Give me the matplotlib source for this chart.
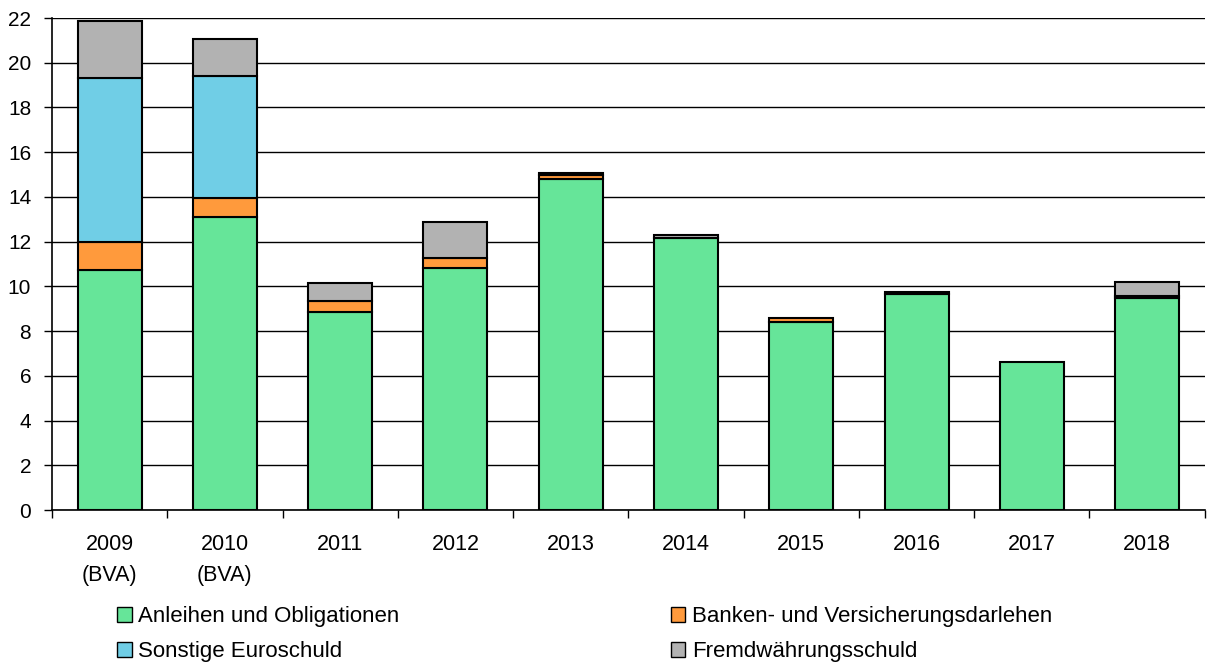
import numpy as np
import matplotlib.pyplot as plt
from matplotlib.patches import Patch

plt.rcParams['font.family'] = ['Liberation Sans', 'DejaVu Sans']

# values in bn EUR
years = ["2009\n(BVA)", "2010\n(BVA)", "2011", "2012", "2013", "2014", "2015", "2016", "2017", "2018"]
anleihen = [10.75, 13.1, 8.85, 10.8, 14.82, 12.15, 8.42, 9.65, 6.6, 9.5]
banken = [1.25, 0.85, 0.5, 0.47, 0.15, 0.0, 0.15, 0.0, 0.0, 0.05]
sonstige = [7.3, 5.45, 0.0, 0.0, 0.0, 0.0, 0.0, 0.0, 0.0, 0.0]
fremd = [2.55, 1.65, 0.8, 1.6, 0.08, 0.15, 0.0, 0.1, 0.0, 0.65]

labels = ["Anleihen und Obligationen", "Banken- und Versicherungsdarlehen",
          "Sonstige Euroschuld", "Fremdwährungsschuld"]
colors = ["#66e599", "#ff9a3c", "#70cee6", "#b2b2b2"]

fig = plt.figure(figsize=(12.07, 6.62), dpi=100)
ax = fig.add_axes([0.0431, 0.2296, 0.955, 0.7432])

x = np.arange(len(years))
w = 0.555
bottom = np.zeros(len(years))
series = [anleihen, banken, sonstige, fremd]
for vals, col in zip(series, colors):
    vals = np.array(vals)
    mask = vals > 0
    ax.bar(x[mask], vals[mask], w, bottom=bottom[mask], color=col,
           edgecolor="black", linewidth=1.5, zorder=3)
    bottom += vals

ax.set_ylim(0, 22)
ax.set_yticks(np.arange(0, 23, 2))
ax.set_xlim(-0.5, len(years) - 0.5)
ax.set_xticks(x)
ax.set_xticklabels(years, fontsize=15.5, linespacing=1.65)
ax.set_xticks(np.arange(-0.5, len(years)), minor=True)
ax.tick_params(axis="x", which="major", length=0, pad=17)
ax.tick_params(axis="x", which="minor", length=6, width=1, direction="out")
ax.tick_params(axis="y", labelsize=15, length=6, width=1, direction="out", pad=9)
ax.grid(axis="y", color="black", linewidth=1, zorder=0)
ax.set_axisbelow(True)
for s in ["top", "right"]:
    ax.spines[s].set_visible(False)
for s in ["left", "bottom"]:
    ax.spines[s].set_linewidth(1.2)

order = [0, 2, 1, 3]
handles = [Patch(facecolor=colors[i], edgecolor="black", linewidth=1) for i in order]
fig.legend(handles, [labels[i] for i in order], ncol=2, loc="upper left",
           bbox_to_anchor=(0.097, 0.084), frameon=False, fontsize=16,
           handlelength=0.65, handleheight=0.65, handletextpad=0.3,
           columnspacing=12.2, labelspacing=0.62, borderaxespad=0, borderpad=0)

fig.savefig("out.png", dpi=100)
